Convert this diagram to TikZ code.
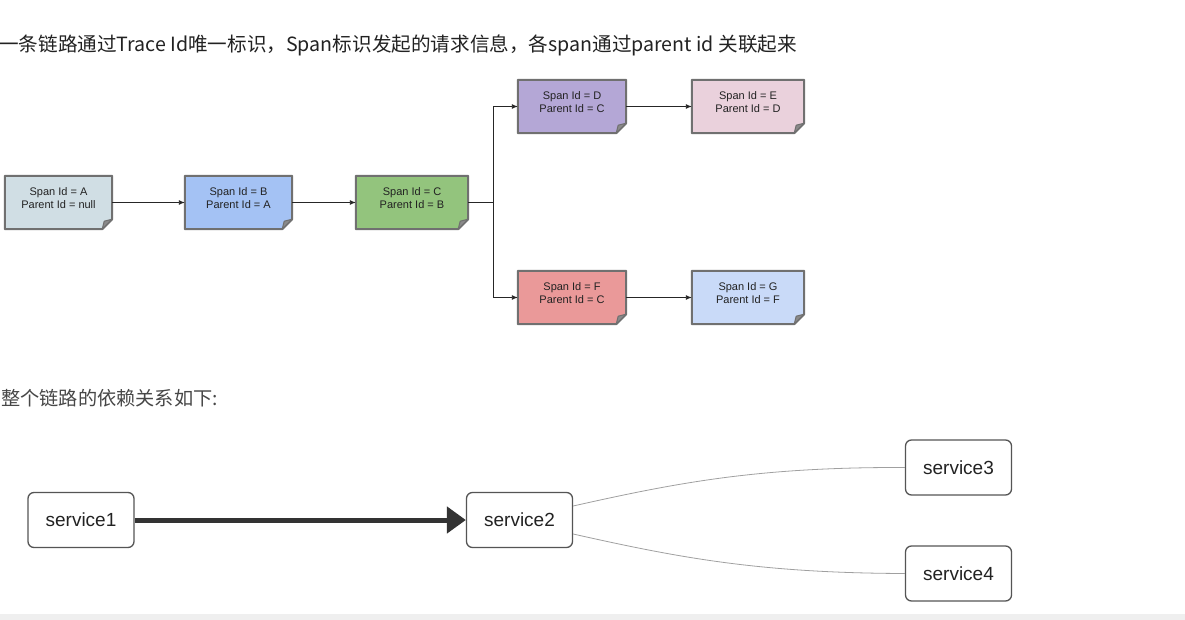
\documentclass[tikz,border=0pt]{standalone}
\usepackage{fontspec}
\setmainfont{Liberation Sans}
\newfontfamily\cjk{Noto Sans CJK SC}
\usetikzlibrary{arrows.meta,backgrounds}
\definecolor{cA}{HTML}{D0DEE4}
\definecolor{cB}{HTML}{A4C2F4}
\definecolor{cC}{HTML}{93C47D}
\definecolor{cD}{HTML}{B4A7D6}
\definecolor{cE}{HTML}{EAD1DC}
\definecolor{cF}{HTML}{EA9999}
\definecolor{cG}{HTML}{C9DAF8}
\definecolor{bord}{HTML}{707070}
\definecolor{foldc}{HTML}{8A8A8A}
\definecolor{txt}{HTML}{222222}
\definecolor{svcline}{HTML}{555555}
\definecolor{thinc}{HTML}{A0A0A0}
\definecolor{strip}{HTML}{EFEFEF}
\begin{document}
\begin{tikzpicture}[x=1pt,y=-1pt,
  span/.style={minimum width=107pt, minimum height=53pt, inner sep=0pt, align=center,
    text depth=8pt, font=\fontsize{11}{13}\selectfont, text=txt},
  svc/.style={draw=svcline, line width=1.3pt, rounded corners=6pt, fill=white,
    minimum width=106pt, minimum height=55pt, inner sep=0pt,
    font=\fontsize{19}{22}\selectfont, text=txt},
  link/.style={draw=black!85, line width=0.9pt, -{Latex[length=6pt,width=5pt]}},
  plain/.style={draw=black!85, line width=0.9pt},
  curve/.style={draw=thinc, line width=0.8pt},
  heading/.style={anchor=west, inner sep=0pt},
]
\useasboundingbox (0,0) rectangle (1185,620);

\node[heading, text=txt, font=\cjk\fontsize{19.6}{22}\selectfont] (t1) at (-1,45) {一条链路通过Trace Id唯一标识，Span标识发起的请求信息，各span通过parent id 关联起来};
\node[heading, text=black!72, font=\cjk\fontsize{19.2}{22}\selectfont] (t2) at (1,398) {整个链路的依赖关系如下:};

\node[span, minimum width=107pt] (a) at (58.5,202.5) {Span Id = A\\Parent Id = null};
\node[span, minimum width=107pt] (b) at (238.5,202.5) {Span Id = B\\Parent Id = A};
\node[span, minimum width=112pt] (c) at (412,202.5) {Span Id = C\\Parent Id = B};
\node[span, minimum width=108pt] (d) at (572,106.5) {Span Id = D\\Parent Id = C};
\node[span, minimum width=112pt] (e) at (748,106.5) {Span Id = E\\Parent Id = D};
\node[span, minimum width=108pt] (f) at (572,297.5) {Span Id = F\\Parent Id = C};
\node[span, minimum width=112pt] (g) at (748,297.5) {Span Id = G\\Parent Id = F};

\begin{scope}[on background layer]
\fill[white] (0,0) rectangle (1185,620);
\fill[strip] (0,614) rectangle (1185,620);
\foreach \n/\col in {a/cA,b/cB,c/cC,d/cD,e/cE,f/cF,g/cG}{
  \filldraw[fill=\col, draw=bord, line width=2pt, line join=round]
    (\n.north west) -- (\n.north east) -- ([yshift=10pt]\n.south east)
    -- ([xshift=-10pt]\n.south east) -- (\n.south west) -- cycle;
  \filldraw[fill=foldc, draw=bord, line width=1pt, line join=round]
    ([yshift=10pt]\n.south east) -- ([xshift=-10pt]\n.south east)
    -- ([xshift=-8pt,yshift=8pt]\n.south east) -- cycle;
}
\end{scope}

\draw[link] (a) -- (b);
\draw[link] (b) -- (c);
\coordinate (j) at (493,202.5);
\draw[plain] (c.east) -- (j);
\draw[link] (j) |- (d);
\draw[link] (j) |- (f);
\draw[link] (d) -- (e);
\draw[link] (f) -- (g);

\node[svc] (s1) at (81,520) {service1};
\node[svc] (s2) at (519.5,520) {service2};
\node[svc] (s3) at (958.5,467.5) {service3};
\node[svc] (s4) at (958.5,573.5) {service4};
\draw[line width=5pt, draw=black!80, -{Triangle[length=19pt,width=26pt]}] (s1) -- (s2);
\draw[curve] ([yshift=14pt]s2.east) .. controls (680,482) and (760,467) .. (s3.west);
\draw[curve] ([yshift=-14pt]s2.east) .. controls (680,558) and (760,573) .. (s4.west);
\end{tikzpicture}
\end{document}
